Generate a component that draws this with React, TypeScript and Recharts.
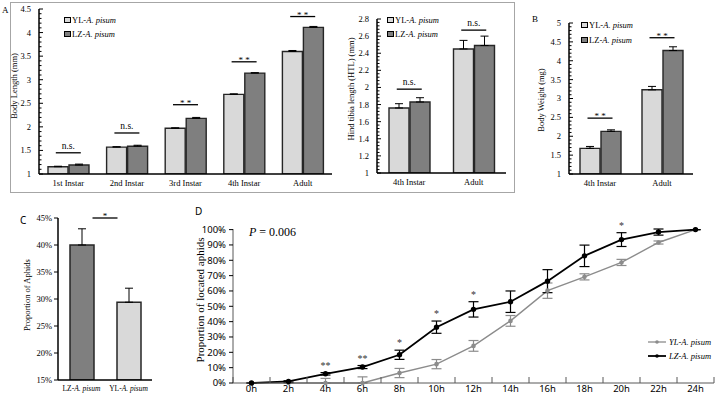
import React from 'react';
import { BarChart, Bar, LineChart, Line, XAxis, YAxis, ErrorBar, ReferenceLine, Legend, LabelList } from 'recharts';

const SERIF = '"Liberation Serif", "DejaVu Serif", serif';
const SANS = '"Noto Sans", "Open Sans", sans-serif';

const YL_FILL = '#d9d9d9';
const LZ_FILL = '#7f7f7f';
const EDGE = '#262626';
const YL_LINE = '#8c8c8c';
const LZ_LINE = '#000000';

const strains = ['YL', 'LZ'];

// A (left) - body length
const stages = ['1st Instar', '2nd Instar', '3rd Instar', '4th Instar', 'Adult'];
const ylLength = [1.155, 1.57, 1.97, 2.69, 3.6];
const lzLength = [1.19, 1.59, 2.18, 3.14, 4.11];
const ylLengthErr = [0.01, 0.01, 0.01, 0.01, 0.02];
const lzLengthErr = [0.02, 0.02, 0.02, 0.01, 0.02];
const lengthSig = ['n.s.', 'n.s.', '* *', '* *', '* *'];
const lengthSigAt = [1.45, 1.87, 2.47, 3.38, 4.34];
const lengthTicks = [1, 1.5, 2, 2.5, 3, 3.5, 4, 4.5];

// A (right) - hind tibia length
const htlStages = ['4th Instar', 'Adult'];
const ylHtl = [1.76, 2.45];
const lzHtl = [1.83, 2.49];
const ylHtlErr = [0.05, 0.1];
const lzHtlErr = [0.05, 0.11];
const htlSig = ['n.s.', 'n.s.'];
const htlSigAt = [1.98, 2.67];
const htlTicks = [1, 1.2, 1.4, 1.6, 1.8, 2, 2.2, 2.4, 2.6, 2.8];

// B - body weight
const weightStages = ['4th Instar', 'Adult'];
const ylWeight = [1.68, 3.23];
const lzWeight = [2.13, 4.27];
const ylWeightErr = [0.05, 0.09];
const lzWeightErr = [0.04, 0.1];
const weightSig = ['* *', '* *'];
const weightSigAt = [2.48, 4.61];
const weightTicks = [1, 1.5, 2, 2.5, 3, 3.5, 4, 4.5, 5];

// C - choice
const choiceGroups = ['LZ-A. pisum', 'YL-A. pisum'];
const choiceShare = [40, 29.4];
const choiceErr = [3, 2.6];
const choiceFill = [LZ_FILL, YL_FILL];
const choiceSig = '*';
const choiceSigAt = 45;
const choiceTicks = [15, 20, 25, 30, 35, 40, 45];

// D - located aphids over time
const hours = ['0h', '2h', '4h', '6h', '8h', '10h', '12h', '14h', '16h', '18h', '20h', '22h', '24h'];
const ylLocated = [0, 0, 0, 0, 6.5, 12.3, 24.2, 40.5, 60.2, 69.2, 78.6, 91.6, 100];
const ylLocatedErr = [0, 0, 3, 4, 3, 3, 3.5, 3.5, 5, 2, 2, 1, 0];
const lzLocated = [0, 1, 6, 10.4, 18.4, 36.4, 48, 53, 66.4, 82.9, 93.5, 98.4, 100];
const lzLocatedErr = [0, 0.5, 0.8, 1, 3, 4, 5, 7, 7.5, 7, 4.5, 2, 0];
const locatedStars = ['', '', '**', '**', '*', '*', '*', '', '', '', '*', '', ''];
const locatedTicks = [0, 10, 20, 30, 40, 50, 60, 70, 80, 90, 100];

const withMinor = (lo: number, hi: number, step: number) => {
  const out: number[] = [];
  for (let v = lo; v <= hi + 1e-9; v += step) out.push(Math.round(v * 1000) / 1000);
  return out;
};

const pairRows = (cats: string[], yl: number[], lz: number[], ylErr: number[], lzErr: number[]) =>
  cats.map((name, i) => ({ name, yl: yl[i], lz: lz[i], ylErr: [0, ylErr[i]], lzErr: [0, lzErr[i]] }));

const YTick = ({ x, y, payload, majors, inside, fmt, font, size, gap }: any) => {
  const v = payload.value;
  const major = majors.some((m: number) => Math.abs(m - v) < 1e-6);
  const len = major ? 4 : 2.5;
  return (
    <g>
      <line x1={x} x2={inside ? x + len : x - len} y1={y} y2={y} stroke="#000" strokeWidth={1} />
      {major && (
        <text x={x - gap} y={y} dy={size * 0.35} textAnchor="end" fontFamily={font} fontSize={size} fill="#000">
          {fmt ? fmt(v) : v}
        </text>
      )}
    </g>
  );
};

const CatTick = ({ x, y, payload, baseOff, size }: any) => {
  const [head, tail] = String(payload.value).split('-');
  return (
    <text x={x} y={y + baseOff} textAnchor="middle" fontFamily={SERIF} fontSize={size} fill="#000">
      {tail ? (
        <>
          <tspan>{head}-</tspan>
          <tspan fontStyle="italic">{tail}</tspan>
        </>
      ) : (
        head
      )}
    </text>
  );
};

const SigMark = ({ x1, x2, y1, label, span }: any) => {
  const mid = (x1 + x2) / 2;
  const star = label.includes('*');
  return (
    <g>
      <line x1={mid - span / 2} x2={mid + span / 2} y1={y1} y2={y1} stroke="#000" strokeWidth={1.3} />
      <text x={mid} y={star ? y1 + 1 : y1 - 4} textAnchor="middle" fontFamily={SERIF} fontSize={star ? 9 : 9.5} fill="#000">
        {label}
      </text>
    </g>
  );
};

const SwatchLegend = ({ rowH }: any) => (
  <div style={{ fontFamily: SERIF, fontSize: 8.5, lineHeight: `${rowH}px`, color: '#000', whiteSpace: 'nowrap' }}>
    {strains.map((s, i) => (
      <div key={s} style={{ display: 'flex', alignItems: 'center' }}>
        <span style={{ display: 'inline-block', width: 4.5, height: 4.5, border: '1.3px solid #000', background: i === 0 ? YL_FILL : LZ_FILL, marginRight: 1.5 }} />
        <span>
          {s}-<i>A. pisum</i>
        </span>
      </div>
    ))}
  </div>
);

const LineLegend = () => (
  <div style={{ fontFamily: SERIF, fontSize: 8.5, lineHeight: '14.3px', color: '#000', whiteSpace: 'nowrap' }}>
    {strains.map((s, i) => {
      const c = i === 0 ? YL_LINE : LZ_LINE;
      return (
        <div key={s} style={{ display: 'flex', alignItems: 'center' }}>
          <svg width={18} height={6} style={{ marginRight: 3 }}>
            <line x1={0} x2={18} y1={3} y2={3} stroke={c} strokeWidth={i === 0 ? 1.3 : 1.8} />
            <circle cx={9} cy={3} r={1.8} fill={c} />
          </svg>
          <span style={{ fontStyle: 'italic', color: '#000' }}>
            {s}-A. pisum
          </span>
        </div>
      );
    })}
  </div>
);

type PairProps = {
  left: number; top: number; width: number; height: number;
  axisW: number; topM: number; rightM: number; axisH: number;
  rows: any[]; cats: string[]; sig: string[]; sigAt: number[];
  domain: [number, number]; majors: number[]; minorStep: number;
  legendLeft: number; legendTop: number; legendRow: number;
};

const PairBars = (p: PairProps) => (
  <div style={{ position: 'absolute', left: p.left, top: p.top }}>
    <BarChart width={p.width} height={p.height} data={p.rows} barGap={1} margin={{ top: p.topM, right: p.rightM, left: 0, bottom: 0 }}>
      <XAxis dataKey="name" height={p.axisH} tickLine={false} tickSize={0} tickMargin={0} interval={0}
        axisLine={{ stroke: '#000', strokeWidth: 1.5 }} tick={<CatTick baseOff={12} size={8.5} />} />
      <YAxis type="number" domain={p.domain} allowDataOverflow width={p.axisW} interval={0}
        ticks={withMinor(p.domain[0], p.domain[1], p.minorStep)} tickSize={0} tickMargin={0} tickLine={false}
        axisLine={{ stroke: '#000', strokeWidth: 1.5 }}
        tick={<YTick majors={p.majors} inside font={SERIF} size={8.5} gap={8} />} />
      <Legend layout="vertical" align="center" verticalAlign="middle" content={() => <SwatchLegend rowH={p.legendRow} />}
        wrapperStyle={{ left: p.legendLeft, top: p.legendTop, width: 'auto' }} />
      <Bar dataKey="yl" fill={YL_FILL} stroke={EDGE} strokeWidth={1.4} barSize={20} isAnimationActive={false}>
        <ErrorBar dataKey="ylErr" width={4} stroke="#000" strokeWidth={1} direction="y" />
      </Bar>
      <Bar dataKey="lz" fill={LZ_FILL} stroke={EDGE} strokeWidth={1.4} barSize={20} isAnimationActive={false}>
        <ErrorBar dataKey="lzErr" width={4} stroke="#000" strokeWidth={1} direction="y" />
      </Bar>
      {p.cats.map((c, i) => (
        <ReferenceLine key={c} segment={[{ x: c, y: p.sigAt[i] }, { x: c, y: p.sigAt[i] }]}
          shape={(sp: any) => <SigMark {...sp} label={p.sig[i]} span={25} />} />
      ))}
    </BarChart>
  </div>
);

const HourTick = ({ x, y, payload, index }: any) => {
  const half = (536 - 53 - 2) / hours.length / 2;
  return (
    <g>
      <line x1={x - half} x2={x - half} y1={y} y2={y - 6} stroke="#595959" strokeWidth={1} />
      {index === hours.length - 1 && <line x1={x + half} x2={x + half} y1={y} y2={y - 6} stroke="#595959" strokeWidth={1} />}
      <text x={x} y={y + 8.5} textAnchor="middle" fontFamily={SANS} fontSize={9.5} fill="#000">
        {payload.value}
      </text>
    </g>
  );
};

const StarLabel = ({ x, y, value }: any) => {
  if (!value) return null;
  return (
    <text x={x} y={y - 4} textAnchor="middle" fontFamily={SERIF} fontSize={10} fill="#333">
      {value}
    </text>
  );
};

const lengthRows = pairRows(stages, ylLength, lzLength, ylLengthErr, lzLengthErr);
const htlRows = pairRows(htlStages, ylHtl, lzHtl, ylHtlErr, lzHtlErr);
const weightRows = pairRows(weightStages, ylWeight, lzWeight, ylWeightErr, lzWeightErr);
const choiceRows = choiceGroups.map((name, i) => ({ name, share: choiceShare[i], err: [0, choiceErr[i]] }));
const locatedRows = hours.map((name, i) => ({
  name,
  yl: ylLocated[i],
  ylErr: [Math.min(ylLocatedErr[i], ylLocated[i]), ylLocatedErr[i]],
  lz: lzLocated[i],
  lzErr: [Math.min(lzLocatedErr[i], lzLocated[i]), lzLocatedErr[i]],
  starAt: lzLocated[i] + lzLocatedErr[i],
  star: locatedStars[i],
}));

const App = () => (
  <div style={{ position: 'absolute', left: 0, top: 0, width: 716, height: 402, background: '#fff', overflow: 'hidden' }}>
    <PairBars left={0} top={0} width={340} height={195} axisW={39} topM={9} rightM={8} axisH={21}
      rows={lengthRows} cats={stages} sig={lengthSig} sigAt={lengthSigAt} domain={[1, 4.5]} majors={lengthTicks}
      minorStep={0.1} legendLeft={64} legendTop={13} legendRow={14} />
    <PairBars left={340} top={0} width={170} height={195} axisW={37} topM={19} rightM={4} axisH={22}
      rows={htlRows} cats={htlStages} sig={htlSig} sigAt={htlSigAt} domain={[1, 2.8]} majors={htlTicks}
      minorStep={0.04} legendLeft={47} legendTop={13} legendRow={14} />
    <PairBars left={525} top={0} width={185} height={195} axisW={44} topM={23} rightM={17} axisH={21}
      rows={weightRows} cats={weightStages} sig={weightSig} sigAt={weightSigAt} domain={[1, 5]} majors={weightTicks}
      minorStep={0.1} legendLeft={56} legendTop={17.5} legendRow={15} />

    <div style={{ position: 'absolute', left: 0, top: 200 }}>
      <BarChart width={160} height={202} data={choiceRows} margin={{ top: 18, right: 8, left: 0, bottom: 0 }}>
        <XAxis dataKey="name" height={22} tickLine={false} tickSize={0} tickMargin={0} interval={0}
          axisLine={{ stroke: '#000', strokeWidth: 1.5 }} tick={<CatTick baseOff={10.5} size={7.5} />} />
        <YAxis type="number" domain={[15, 45]} allowDataOverflow width={58} interval={0} ticks={choiceTicks}
          tickSize={0} tickMargin={0} tickLine={false} axisLine={{ stroke: '#000', strokeWidth: 1.5 }}
          tick={<YTick majors={choiceTicks} font={SERIF} size={8.5} gap={6} fmt={(v: number) => `${v}%`} />} />
        <Bar dataKey="share" stroke={EDGE} strokeWidth={1.5} barSize={24} isAnimationActive={false}
          shape={(sp: any) => <rect x={sp.x} y={sp.y} width={sp.width} height={sp.height} fill={choiceFill[sp.index]} stroke={EDGE} strokeWidth={1.5} />}>
          <ErrorBar dataKey="err" width={4} stroke="#000" strokeWidth={1} direction="y" />
        </Bar>
        <ReferenceLine segment={[{ x: choiceGroups[0], y: choiceSigAt }, { x: choiceGroups[1], y: choiceSigAt }]}
          shape={(sp: any) => <SigMark {...sp} label={choiceSig} span={25} />} />
      </BarChart>
    </div>

    <div style={{ position: 'absolute', left: 180, top: 215 }}>
      <LineChart width={536} height={187} data={locatedRows} margin={{ top: 14, right: 2, left: 0, bottom: 0 }}>
        <XAxis dataKey="name" scale="band" height={19} tickLine={false} tickSize={0} tickMargin={0} interval={0}
          axisLine={{ stroke: '#595959', strokeWidth: 1 }} tick={<HourTick />} />
        <YAxis type="number" domain={[0, 100]} width={53} interval={0} ticks={locatedTicks} tickSize={0} tickMargin={0}
          tickLine={false} axisLine={{ stroke: '#595959', strokeWidth: 1 }}
          tick={<YTick majors={locatedTicks} font={SANS} size={9.5} gap={7} fmt={(v: number) => `${v}%`} />} />
        <Legend layout="vertical" align="center" verticalAlign="middle" content={() => <LineLegend />}
          wrapperStyle={{ left: 468, top: 119.5, width: 'auto' }} />
        <Line dataKey="yl" stroke={YL_LINE} strokeWidth={1.4} dot={{ r: 1.6, fill: YL_LINE, stroke: YL_LINE }} isAnimationActive={false}>
          <ErrorBar dataKey="ylErr" width={5} stroke={YL_LINE} strokeWidth={1.2} direction="y" />
        </Line>
        <Line dataKey="lz" stroke={LZ_LINE} strokeWidth={1.8} dot={{ r: 1.8, fill: LZ_LINE, stroke: LZ_LINE }} isAnimationActive={false}>
          <ErrorBar dataKey="lzErr" width={5} stroke={LZ_LINE} strokeWidth={1.2} direction="y" />
        </Line>
        <Line dataKey="starAt" stroke="none" dot={false} activeDot={false} legendType="none" isAnimationActive={false}>
          <LabelList dataKey="star" content={<StarLabel />} />
        </Line>
      </LineChart>
    </div>

    <svg width={716} height={402} style={{ position: 'absolute', left: 0, top: 0, pointerEvents: 'none' }}>
      <rect x={10.5} y={2.5} width={504} height={190} fill="none" stroke="#a6a6a6" strokeWidth={1} />
      <text x={2} y={13} fontFamily={SERIF} fontSize={9} fill="#000">A</text>
      <text x={532} y={22} fontFamily={SERIF} fontSize={9} fill="#000">B</text>
      <text x={20} y={224} fontFamily={SANS} fontSize={10} fill="#000">C</text>
      <text x={195} y={215} fontFamily={SANS} fontSize={10} fill="#000">D</text>
      <text transform="translate(17,86) rotate(-90)" textAnchor="middle" fontFamily={SERIF} fontSize={8.5} fill="#000">Body Length (mm)</text>
      <text transform="translate(354,89) rotate(-90)" textAnchor="middle" fontFamily={SERIF} fontSize={8.5} fill="#000">Hind tibia length (HTL) (mm)</text>
      <text transform="translate(544,100) rotate(-90)" textAnchor="middle" fontFamily={SERIF} fontSize={8.5} fill="#000">Body Weight (mg)</text>
      <text transform="translate(30,295) rotate(-90)" textAnchor="middle" fontFamily={SERIF} fontSize={8.5} fill="#000">Proportion of Aphids</text>
      <text transform="translate(204,300) rotate(-90)" textAnchor="middle" fontFamily={SERIF} fontSize={11} fill="#000">Proportion of located aphids</text>
      <text x={249} y={236} fontFamily={SERIF} fontSize={12} fill="#000">
        <tspan fontStyle="italic">P</tspan> = 0.006
      </text>
    </svg>
  </div>
);

export default App;
